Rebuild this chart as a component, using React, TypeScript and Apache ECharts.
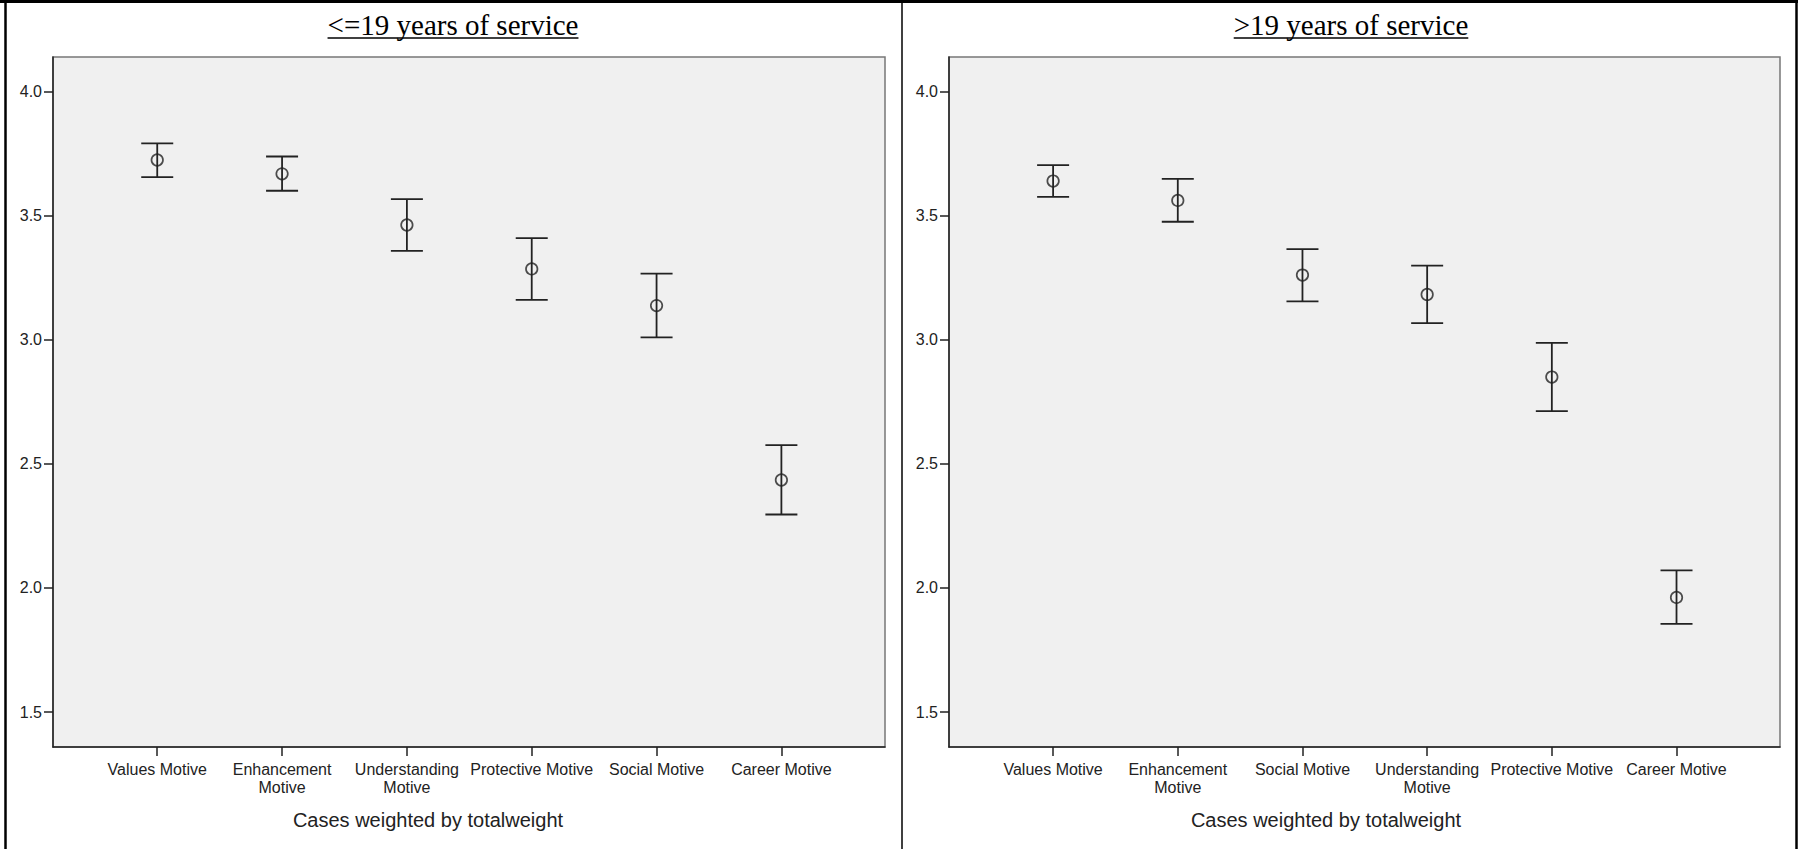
import React, { useEffect, useRef } from 'react';
import * as echarts from 'echarts';

const leftTitle = '<=19 years of service';
const rightTitle = '>19 years of service';
const footnote = 'Cases weighted by totalweight';

const leftCategories = ['Values Motive', 'Enhancement\nMotive', 'Understanding\nMotive', 'Protective Motive', 'Social Motive', 'Career Motive'];
const leftMeans = [3.725, 3.669, 3.463, 3.286, 3.138, 2.435];
const leftLower = [3.656, 3.601, 3.359, 3.161, 3.010, 2.296];
const leftUpper = [3.792, 3.739, 3.567, 3.410, 3.267, 2.576];

const rightCategories = ['Values Motive', 'Enhancement\nMotive', 'Social Motive', 'Understanding\nMotive', 'Protective Motive', 'Career Motive'];
const rightMeans = [3.640, 3.562, 3.261, 3.183, 2.850, 1.962];
const rightLower = [3.576, 3.476, 3.155, 3.067, 2.713, 1.855];
const rightUpper = [3.704, 3.649, 3.366, 3.299, 2.988, 2.071];

const yTicks = [1.5, 2.0, 2.5, 3.0, 3.5, 4.0];
const Y_MIN = 1.359;
const Y_MAX = 4.14;
const X_MIN = -0.835;
const X_MAX = 5.83;

const INK = '#222';
const TITLE_FONT = '29px "Liberation Serif"';

function measure(text: string, font: string): number {
  const c = document.createElement('canvas');
  const ctx = c.getContext('2d');
  if (!ctx) return text.length * 12;
  ctx.font = font;
  return ctx.measureText(text).width;
}

export default function App() {
  const ref = useRef<HTMLDivElement>(null);

  useEffect(() => {
    document.body.style.margin = '0';
    document.body.style.background = '#fff';
    if (!ref.current) return;
    const chart = echarts.init(ref.current, null, { renderer: 'svg' });

    const panels = [
      { cats: leftCategories, means: leftMeans, lo: leftLower, hi: leftUpper, left: 53, width: 832 },
      { cats: rightCategories, means: rightMeans, lo: rightLower, hi: rightUpper, left: 949, width: 831 },
    ];

    const grids: any[] = [];
    const xAxes: any[] = [];
    const yAxes: any[] = [];
    const series: any[] = [];
    const lineStyle = { stroke: INK, lineWidth: 1.8 };

    panels.forEach((p, idx) => {
      grids.push({
        left: p.left, top: 57, width: p.width, height: 690,
        show: true, backgroundColor: '#f0f0f0', borderColor: '#777', borderWidth: 1.5,
      });
      xAxes.push({
        gridIndex: idx, type: 'value', min: X_MIN, max: X_MAX,
        axisLine: { show: true, onZero: false, lineStyle: { color: INK, width: 1.5 } },
        axisTick: { show: true, length: 9, customValues: [0, 1, 2, 3, 4, 5], lineStyle: { color: INK, width: 1.5 } },
        axisLabel: {
          customValues: [0, 1, 2, 3, 4, 5],
          formatter: (v: number) => p.cats[Math.round(v)] ?? '',
          fontFamily: 'Liberation Sans', fontSize: 16, lineHeight: 18, color: INK, margin: 13,
          showMinLabel: true, showMaxLabel: true,
        },
        splitLine: { show: false },
      });
      yAxes.push({
        gridIndex: idx, type: 'value', min: Y_MIN, max: Y_MAX,
        axisLine: { show: true, onZero: false, lineStyle: { color: INK, width: 1.5 } },
        axisTick: { show: true, length: 9, customValues: yTicks, lineStyle: { color: INK, width: 1.5 } },
        axisLabel: {
          customValues: yTicks,
          formatter: (v: number) => v.toFixed(1),
          fontFamily: 'Liberation Sans', fontSize: 16, color: INK, margin: 11,
        },
        splitLine: { show: false },
      });
      series.push({
        type: 'custom', xAxisIndex: idx, yAxisIndex: idx,
        data: p.means.map((_, i) => [i, p.lo[i], p.hi[i]]),
        encode: { x: 0, y: [1, 2] },
        renderItem: (params: any, api: any) => {
          const x = api.value(0);
          const lo = api.coord([x, api.value(1)]);
          const hi = api.coord([x, api.value(2)]);
          const hw = 16;
          return {
            type: 'group',
            children: [
              { type: 'line', shape: { x1: lo[0], y1: hi[1], x2: lo[0], y2: lo[1] }, style: lineStyle },
              { type: 'line', shape: { x1: lo[0] - hw, y1: hi[1], x2: lo[0] + hw, y2: hi[1] }, style: lineStyle },
              { type: 'line', shape: { x1: lo[0] - hw, y1: lo[1], x2: lo[0] + hw, y2: lo[1] }, style: lineStyle },
            ],
          };
        },
        z: 2,
      });
      series.push({
        type: 'scatter', xAxisIndex: idx, yAxisIndex: idx,
        data: p.means.map((m, i) => [i, m]),
        symbol: 'circle', symbolSize: 11.5,
        itemStyle: { color: 'rgba(0,0,0,0)', borderColor: '#222', borderWidth: 1.7 },
        z: 3,
      });
    });

    const lw = measure(leftTitle, TITLE_FONT);
    const rw = measure(rightTitle, TITLE_FONT);
    const lcx = 453;
    const rcx = 1351;

    const graphic: any[] = [
      { type: 'line', shape: { x1: 0, y1: 1.5, x2: 1798, y2: 1.5 }, style: { stroke: '#000', lineWidth: 3 } },
      { type: 'line', shape: { x1: 5.5, y1: 0, x2: 5.5, y2: 849 }, style: { stroke: '#000', lineWidth: 2.5 } },
      { type: 'line', shape: { x1: 902, y1: 0, x2: 902, y2: 849 }, style: { stroke: '#000', lineWidth: 1.5 } },
      { type: 'line', shape: { x1: 1796.5, y1: 0, x2: 1796.5, y2: 849 }, style: { stroke: '#000', lineWidth: 2.5 } },
      { type: 'text', x: lcx, y: 25, style: { text: leftTitle, font: TITLE_FONT, fill: '#000', align: 'center', verticalAlign: 'middle' } },
      { type: 'line', shape: { x1: lcx - lw / 2, y1: 38, x2: lcx + lw / 2, y2: 38 }, style: { stroke: '#000', lineWidth: 1.5 } },
      { type: 'text', x: rcx, y: 25, style: { text: rightTitle, font: TITLE_FONT, fill: '#000', align: 'center', verticalAlign: 'middle' } },
      { type: 'line', shape: { x1: rcx - rw / 2, y1: 38, x2: rcx + rw / 2, y2: 38 }, style: { stroke: '#000', lineWidth: 1.5 } },
      { type: 'text', x: 428, y: 820, style: { text: footnote, font: '20px "Liberation Sans"', fill: INK, align: 'center', verticalAlign: 'middle' } },
      { type: 'text', x: 1326, y: 820, style: { text: footnote, font: '20px "Liberation Sans"', fill: INK, align: 'center', verticalAlign: 'middle' } },
    ];

    chart.setOption({
      animation: false,
      backgroundColor: '#fff',
      grid: grids,
      xAxis: xAxes,
      yAxis: yAxes,
      series,
      graphic,
    });

    return () => chart.dispose();
  }, []);

  return <div ref={ref} style={{ width: 1798, height: 849 }} />;
}
